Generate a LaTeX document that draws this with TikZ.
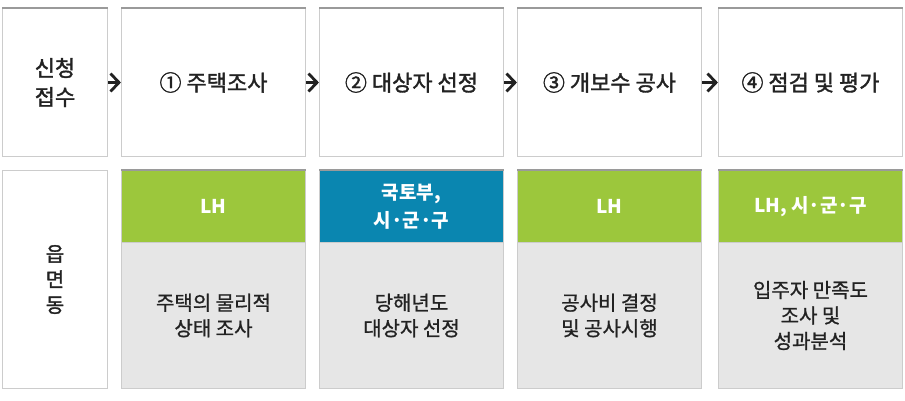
\documentclass[tikz,border=0pt]{standalone}
\usepackage{fontspec}
\setmainfont{Noto Sans CJK KR}
\newfontfamily\medfont[FakeBold=1.6]{Noto Sans CJK KR}
\newfontfamily\semifont[FakeBold=1.0]{Noto Sans CJK KR}
\definecolor{lhgreen}{HTML}{9CC73C}
\definecolor{molitblue}{HTML}{0A86B0}
\definecolor{bodygray}{HTML}{E6E6E6}
\definecolor{edgegray}{HTML}{CCCCCC}
\definecolor{topgray}{HTML}{9A9A9A}
\definecolor{txtdark}{HTML}{222222}
\tikzset{
  stagebox/.style={draw=edgegray, line width=1pt, fill=white, anchor=north west, inner sep=0pt,
    minimum width=184pt, minimum height=148pt, align=center, text=txtdark,
    font=\medfont\fontsize{22}{29}\selectfont},
  headbox/.style={draw=edgegray, line width=1pt, anchor=north west, inner sep=0pt,
    minimum width=184pt, minimum height=72pt, align=center, text=white,
    font=\fontsize{19}{28}\selectfont\bfseries},
  bodybox/.style={draw=edgegray, line width=1pt, fill=bodygray, anchor=north west, inner sep=0pt,
    minimum width=184pt, minimum height=146pt, align=center, text=txtdark,
    font=\semifont\fontsize{20}{25.5}\selectfont},
  topline/.style={draw=topgray, line width=1.2pt},
  flowarrow/.style={draw=txtdark, line width=2.8pt, shorten <=0pt, shorten >=1.5pt},
  chevron/.style={draw=txtdark, line width=2.8pt, line cap=butt, line join=miter}
}
\begin{document}
\begin{tikzpicture}[x=1pt,y=-1pt]
\useasboundingbox[fill=white] (0,0) rectangle (905,400);
% top row
\node[stagebox, minimum width=105pt] (s0) at (2,8) {신청\\접수};
\node[stagebox] (s1) at (121,8) {① 주택조사};
\node[stagebox] (s2) at (319,8) {② 대상자 선정};
\node[stagebox] (s3) at (517,8) {③ 개보수 공사};
\node[stagebox] (s4) at (718,8) {④ 점검 및 평가};
\foreach \n in {s0,s1,s2,s3,s4} {\draw[topline] (\n.north west) -- (\n.north east);}
\foreach \a/\b in {s0/s1,s1/s2,s2/s3,s3/s4} {
  \draw[flowarrow] (\a.east) -- (\b.west);
  \draw[chevron] ([shift={(-10.5,-9)}]\b.west) -- ([shift={(-2,0)}]\b.west) -- ([shift={(-10.5,9)}]\b.west);
}
% bottom row
\node[bodybox, fill=white, minimum width=105pt, minimum height=218pt, font=\medfont\fontsize{20}{25.5}\selectfont] (b0) at (2,170) {읍\\면\\동};
\node[headbox, fill=lhgreen] (h1) at (121,170) {LH};
\node[headbox, fill=molitblue] (h2) at (319,170) {국토부,\\시·군·구};
\node[headbox, fill=lhgreen] (h3) at (517,170) {LH};
\node[headbox, fill=lhgreen] (h4) at (718,170) {LH, 시·군·구};
\foreach \n in {h1,h2,h3,h4} {\draw[topline] (\n.north west) -- (\n.north east);}
\node[bodybox] (d1) at (121,242) {주택의 물리적\\상태 조사};
\node[bodybox] (d2) at (319,242) {당해년도\\대상자 선정};
\node[bodybox] (d3) at (517,242) {공사비 결정\\및 공사시행};
\node[bodybox] (d4) at (718,242) {입주자 만족도\\조사 및\\성과분석};
\end{tikzpicture}
\end{document}
